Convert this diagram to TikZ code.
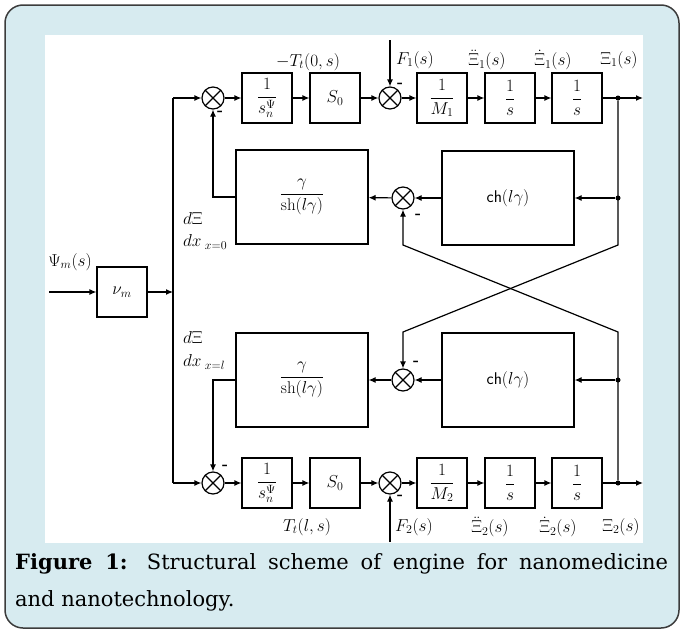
\documentclass[tikz,border=0pt]{standalone}
\usepackage{amsmath}
\usepackage{fontspec}
\usepackage{tikz}
\usetikzlibrary{arrows.meta, positioning, calc}
\newfontfamily\captionfont{DejaVu Serif}
\definecolor{framebg}{RGB}{215,235,240}
\definecolor{frameline}{RGB}{60,60,60}

\begin{document}
\begin{tikzpicture}[
    x=1pt, y=-1pt,
    block/.style={rectangle, draw=black, line width=1.2pt, minimum width=50pt, minimum height=50pt, inner sep=0pt, font=\fontsize{17}{20}\selectfont},
    wideblock/.style={block, minimum width=132pt, minimum height=94pt},
    sumnode/.style={circle, draw=black, line width=1.2pt, minimum size=22pt, inner sep=0pt,
        path picture={\draw[line width=1.2pt] (path picture bounding box.south west) -- (path picture bounding box.north east)
            (path picture bounding box.north west) -- (path picture bounding box.south east);}},
    tap/.style={circle, fill=black, inner sep=0pt, minimum size=5pt},
    sign/.style={font=\fontsize{16}{16}\bfseries\selectfont, inner sep=0pt},
    sig/.style={font=\fontsize{16.5}{19}\selectfont, inner sep=1pt},
    line/.style={draw=black, line width=1.2pt, -{Latex[length=7pt, width=6pt]}},
    wire/.style={draw=black, line width=1.2pt}
]
    \useasboundingbox (0,0) rectangle (683,632);
    \filldraw[fill=framebg, draw=frameline, line width=1.5pt, rounded corners=18pt] (5,5) rectangle (679,628);
    \fill[white] (45,35) rectangle (643,543);

    % upper chain
    \node[sumnode] (sumL1) at (213,98) {};
    \node[block] (gain1) at (267,98) {$\dfrac{1}{s_n^{\Psi}}$};
    \node[block] (szero1) at (335,98) {$S_0$};
    \node[sumnode] (sumF1) at (390,98) {};
    \node[block] (mass1) at (442,98) {$\dfrac{1}{M_1}$};
    \node[block] (intv1) at (510,98) {$\dfrac{1}{s}$};
    \node[block] (intx1) at (577,98) {$\dfrac{1}{s}$};
    \node[tap] (tapx1) at (618,98) {};
    \coordinate (out1) at (643,98);
    \coordinate (force1) at (390,40);

    % lower chain
    \node[sumnode] (sumL2) at (213,483) {};
    \node[block] (gain2) at (267,483) {$\dfrac{1}{s_n^{\Psi}}$};
    \node[block] (szero2) at (335,483) {$S_0$};
    \node[sumnode] (sumF2) at (390,483) {};
    \node[block] (mass2) at (442,483) {$\dfrac{1}{M_2}$};
    \node[block] (intv2) at (510,483) {$\dfrac{1}{s}$};
    \node[block] (intx2) at (577,483) {$\dfrac{1}{s}$};
    \node[tap] (tapx2) at (618,483) {};
    \coordinate (out2) at (643,483);
    \coordinate (force2) at (390,542);

    % feedback blocks
    \node[wideblock] (shape1) at (302,197) {$\dfrac{\gamma}{\mathrm{sh}(l\gamma)}$};
    \node[sumnode] (sumM1) at (403,198) {};
    \node[wideblock] (chain1) at (508,198) {$\mathsf{ch}(l\gamma)$};
    \node[tap] (tapm1) at (618,198) {};
    \node[wideblock] (shape2) at (302,380) {$\dfrac{\gamma}{\mathrm{sh}(l\gamma)}$};
    \node[sumnode] (sumM2) at (403,380) {};
    \node[wideblock] (chain2) at (508,380) {$\mathsf{ch}(l\gamma)$};
    \node[tap] (tapm2) at (618,380) {};
    \coordinate (crossTR) at (618,245);
    \coordinate (crossTL) at (403,245);
    \coordinate (crossBR) at (618,332);
    \coordinate (crossBL) at (403,332);

    % input
    \node[block] (nu) at (122,292) {$\nu_m$};
    \coordinate (in) at (49,292);
    \coordinate (split) at (173,292);
    \coordinate (busTop) at (173,98);
    \coordinate (busBot) at (173,483);

    % labels
    \node[sig] (lblPsi) at (70,262) {$\Psi_m(s)$};
    \node[sig] (lblT1) at (308,62) {$-T_t(0,s)$};
    \node[sig] (lblF1) at (415,60) {$F_1(s)$};
    \node[sig] (lblAcc1) at (487,60) {$\ddot{\Xi}_1(s)$};
    \node[sig] (lblVel1) at (553,60) {$\dot{\Xi}_1(s)$};
    \node[sig] (lblPos1) at (619,60) {$\Xi_1(s)$};
    \node[sig] (lblT2) at (307,527) {$T_t(l,s)$};
    \node[sig] (lblF2) at (414,527) {$F_2(s)$};
    \node[sig] (lblAcc2) at (490,527) {$\ddot{\Xi}_2(s)$};
    \node[sig] (lblVel2) at (558,527) {$\dot{\Xi}_2(s)$};
    \node[sig] (lblPos2) at (621,527) {$\Xi_2(s)$};
    \node[sig, anchor=west] (lblDa) at (182,218) {$d\Xi$};
    \node[sig, anchor=west] (lblDb) at (182,242) {$dx_{\;x=0}$};
    \node[sig, anchor=west] (lblDc) at (182,337) {$d\Xi$};
    \node[sig, anchor=west] (lblDd) at (182,362) {$dx_{\;x=l}$};
    \node[sign] at (220,113) {-};
    \node[sign] at (400,85) {-};
    \node[sign] at (418,216) {-};
    \node[sign] at (416,363) {-};
    \node[sign] at (225,467) {-};
    \node[sign] at (400,497) {-};

    % Connectors
    \draw[line] (in) -- (nu);
    \draw[line] (nu) -- (split);
    \draw[wire] (busTop) -- (busBot);
    \draw[line] (busTop) -- (sumL1);
    \draw[line] (busBot) -- (sumL2);
    \draw[line] (sumL1) -- (gain1);
    \draw[line] (gain1) -- (szero1);
    \draw[line] (szero1) -- (sumF1);
    \draw[line] (sumF1) -- (mass1);
    \draw[line] (mass1) -- (intv1);
    \draw[line] (intv1) -- (intx1);
    \draw[line] (intx1) -- (out1);
    \draw[line] (force1) -- (sumF1);
    \draw[line] (sumL2) -- (gain2);
    \draw[line] (gain2) -- (szero2);
    \draw[line] (szero2) -- (sumF2);
    \draw[line] (sumF2) -- (mass2);
    \draw[line] (mass2) -- (intv2);
    \draw[line] (intv2) -- (intx2);
    \draw[line] (intx2) -- (out2);
    \draw[line] (force2) -- (sumF2);
    \draw[line] (tapx1) -- (crossTR) -- (crossBL) -- (sumM2);
    \draw[line] (tapx2) -- (crossBR) -- (crossTL) -- (sumM1);
    \draw[line] (tapm1) -- (chain1);
    \draw[line] (chain1) -- (sumM1);
    \draw[line] (sumM1) -- (shape1);
    \draw[line] (shape1.west) -| (sumL1);
    \draw[line] (tapm2) -- (chain2);
    \draw[line] (chain2) -- (sumM2);
    \draw[line] (sumM2) -- (shape2);
    \draw[line] (shape2.west) -| (sumL2);

    \node[anchor=north west, inner sep=0pt, text width=653pt, align=justify, font=\captionfont\fontsize{21}{37}\selectfont] (caption) at (15,553)
        {\textbf{Figure 1:} Structural scheme of engine for nanomedicine\linebreak and nanotechnology.};
\end{tikzpicture}
\end{document}
